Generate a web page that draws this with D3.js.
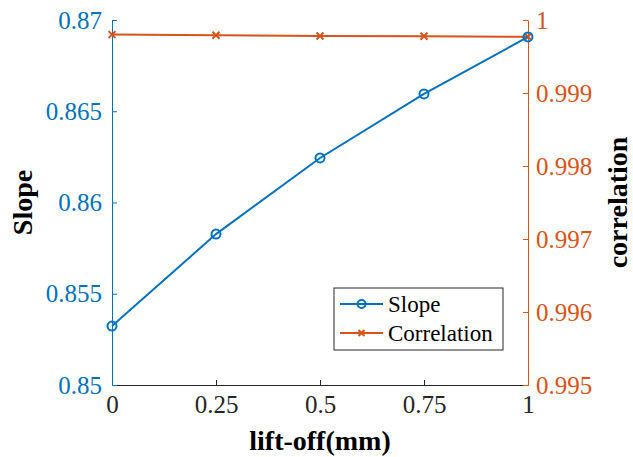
<!DOCTYPE html>
<html>
<head>
<meta charset="utf-8">
<script src="https://cdn.jsdelivr.net/npm/d3@7"></script>
<style>
html,body{margin:0;padding:0;background:#fff;}
svg{display:block;}
</style>
</head>
<body>
<svg id="chart" width="633" height="457"></svg>
<script>
const liftOff = [0, 0.25, 0.5, 0.75, 1];
const slopeValues = [0.85323, 0.85827, 0.86244, 0.86595, 0.86907];
const correlationValues = [0.99980, 0.99979, 0.999781, 0.999777, 0.999771];
const xTicks = [0, 0.25, 0.5, 0.75, 1];
const xTickLabels = ["0", "0.25", "0.5", "0.75", "1"];
const slopeTicks = [0.85, 0.855, 0.86, 0.865, 0.87];
const slopeTickLabels = ["0.85", "0.855", "0.86", "0.865", "0.87"];
const corrTicks = [0.995, 0.996, 0.997, 0.998, 0.999, 1];
const corrTickLabels = ["0.995", "0.996", "0.997", "0.998", "0.999", "1"];
const seriesNames = ["Slope", "Correlation"];

const FONT = "'Liberation Serif', 'Times New Roman', serif";
const blue = "#0072BD", orange = "#D95319";
const L = 112, R = 528, T = 20, B = 385;
const svg = d3.select("#chart");

const x = d3.scaleLinear().domain([0, 1]).range([L, R]);
const yL = d3.scaleLinear().domain([0.85, 0.87]).range([B, T]);
const yR = d3.scaleLinear().domain([0.995, 1]).range([B, T]);

const fs = 25;

function styleText(sel, color) {
  sel.attr("font-family", null);
  sel.selectAll("text").style("font-family", FONT).style("font-size", fs + "px").attr("fill", color);
}

// bottom axis
const xAxis = d3.axisBottom(x).tickValues(xTicks).tickFormat((d,i)=>xTickLabels[i]).tickSizeInner(-5).tickSizeOuter(0).tickPadding(10);
const gx = svg.append("g").attr("transform", `translate(0,${B})`).call(xAxis);
gx.select(".domain").attr("stroke", "#262626").attr("stroke-width", 1);
gx.selectAll(".tick line").attr("stroke", "#262626");
styleText(gx, "#262626");

// left axis
const yAxisL = d3.axisLeft(yL).tickValues(slopeTicks).tickFormat((d,i)=>slopeTickLabels[i]).tickSizeInner(-5).tickSizeOuter(0).tickPadding(10);
const gl = svg.append("g").attr("transform", `translate(${L},0)`).call(yAxisL);
gl.select(".domain").attr("stroke", blue);
gl.selectAll(".tick line").attr("stroke", blue);
styleText(gl, blue);

// right axis
const yAxisR = d3.axisRight(yR).tickValues(corrTicks).tickFormat((d,i)=>corrTickLabels[i]).tickSizeInner(-5).tickSizeOuter(0).tickPadding(8);
const gr = svg.append("g").attr("transform", `translate(${R},0)`).call(yAxisR);
gr.select(".domain").attr("stroke", orange);
gr.selectAll(".tick line").attr("stroke", orange);
styleText(gr, orange);

// labels
function label(t) {
  return t.style("font-family", FONT).style("font-size", "28px").attr("font-weight", "bold").attr("fill", "#000").attr("text-anchor", "middle");
}
label(svg.append("text").attr("x", (L+R)/2).attr("y", 450)).text("lift-off(mm)");
label(svg.append("text").attr("transform", `translate(32,${(T+B)/2}) rotate(-90)`)).text("Slope");
label(svg.append("text").attr("transform", `translate(627,${(T+B)/2}) rotate(-90)`)).text("correlation");

// lines
const lineS = d3.line().x((d,i)=>x(liftOff[i])).y(d=>yL(d));
const lineC = d3.line().x((d,i)=>x(liftOff[i])).y(d=>yR(d));

function crossPath(cx, cy, s) {
  return `M${cx-s},${cy-s}L${cx+s},${cy+s}M${cx-s},${cy+s}L${cx+s},${cy-s}`;
}

svg.append("path").datum(correlationValues).attr("d", lineC).attr("fill", "none").attr("stroke", orange).attr("stroke-width", 2);
svg.append("g").selectAll("path").data(correlationValues).join("path")
  .attr("d", (d,i)=>crossPath(x(liftOff[i]), yR(d), 3.5)).attr("stroke", orange).attr("stroke-width", 2);

svg.append("path").datum(slopeValues).attr("d", lineS).attr("fill", "none").attr("stroke", blue).attr("stroke-width", 2);
svg.append("g").selectAll("circle").data(slopeValues).join("circle")
  .attr("cx", (d,i)=>x(liftOff[i])).attr("cy", d=>yL(d)).attr("r", 4.5)
  .attr("fill", "none").attr("stroke", blue).attr("stroke-width", 2);

// legend
const lg = svg.append("g");
lg.append("rect").attr("x", 334).attr("y", 288).attr("width", 169).attr("height", 62)
  .attr("fill", "#fff").attr("stroke", "#262626").attr("stroke-width", 1);
const rows = [{name: seriesNames[0], c: blue, y: 304}, {name: seriesNames[1], c: orange, y: 333}];
rows.forEach((r, i) => {
  lg.append("line").attr("x1", 340).attr("x2", 383).attr("y1", r.y).attr("y2", r.y).attr("stroke", r.c).attr("stroke-width", 2);
  if (i === 0) lg.append("circle").attr("cx", 361.5).attr("cy", r.y).attr("r", 4).attr("fill", "none").attr("stroke", r.c).attr("stroke-width", 2);
  else lg.append("path").attr("d", crossPath(361.5, r.y, 3)).attr("stroke", r.c).attr("stroke-width", 2);
  lg.append("text").attr("x", 388).attr("y", r.y).attr("dy", "0.33em").style("font-family", FONT).style("font-size", "23px").attr("fill", "#000").text(r.name);
});
</script>
</body>
</html>
